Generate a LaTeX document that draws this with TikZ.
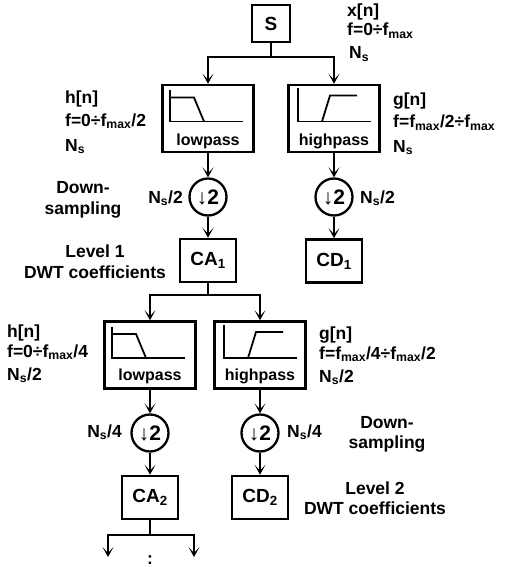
\documentclass[tikz,border=0pt]{standalone}
\usepackage{fontspec}
\setmainfont{Liberation Sans}
\usetikzlibrary{arrows.meta}
\tikzset{
  box/.style={draw, line width=2.6pt, inner sep=0pt},
  filt/.style={box, minimum width=91pt, minimum height=67pt},
  coef/.style={box, minimum width=56pt, minimum height=43pt, font=\bfseries\fontsize{19}{22}\selectfont},
  down/.style={draw, circle, line width=2.3pt, minimum size=37pt, inner sep=0pt, font=\bfseries\fontsize{21}{24}\selectfont},
  conn/.style={line width=2pt},
  arr/.style={conn, -{Stealth[length=10pt,width=11pt,inset=6pt]}},
  icon/.style={line width=1.8pt},
  lbl/.style={inner sep=0pt, anchor=base west, font=\bfseries\fontsize{17.5}{20}\selectfont},
  lblr/.style={lbl, anchor=base east},
  lblc/.style={lbl, anchor=base},
  ftxt/.style={inner sep=0pt, anchor=base, font=\bfseries\fontsize{16}{18}\selectfont},
}
\newcommand\fm{f\textsubscript{max}}
\newcommand\nsub{N\textsubscript{s}}
\newcommand\lowicon[1]{%
  \draw[icon] ([shift={(-38,-28)}]#1.center) -- ([shift={(-38,3)}]#1.center) -- ([shift={(35,3)}]#1.center);
  \draw[icon] ([shift={(-38,-21)}]#1.center) -- ([shift={(-14,-21)}]#1.center) -- ([shift={(-4,3)}]#1.center);}
\newcommand\highicon[1]{%
  \draw[icon] ([shift={(-36,-30)}]#1.center) -- ([shift={(-36,3)}]#1.center) -- ([shift={(37,3)}]#1.center);
  \draw[icon] ([shift={(-12,3)}]#1.center) -- ([shift={(-4,-23)}]#1.center) -- ([shift={(23,-23)}]#1.center);}
\begin{document}
\begin{tikzpicture}[x=1pt,y=-1pt]
\useasboundingbox (0,0) rectangle (505,567);
% nodes
\node[box, minimum width=38pt, minimum height=37pt, font=\bfseries\fontsize{19}{22}\selectfont] (S) at (271,23.5) {S};
\node[filt] (F1) at (208,118.5) {};
\node[filt] (F2) at (334,118.5) {};
\node[down] (C1) at (208,197) {↓2};
\node[down] (C2) at (334,197) {↓2};
\node[coef] (CA1) at (208,260.5) {CA\textsubscript{1}};
\node[coef] (CD1) at (334,261) {CD\textsubscript{1}};
\node[filt] (F3) at (150,355) {};
\node[filt] (F4) at (260,355) {};
\node[down] (C3) at (150,433) {↓2};
\node[down] (C4) at (260,433) {↓2};
\node[coef] (CA2) at (150,497.5) {CA\textsubscript{2}};
\node[coef] (CD2) at (260,497.5) {CD\textsubscript{2}};
% filter contents
\node[ftxt] (F1t) at (208,146) {lowpass};
\node[ftxt] (F2t) at (334,145) {highpass};
\node[ftxt] (F3t) at (150,380) {lowpass};
\node[ftxt] (F4t) at (260,380) {highpass};
\lowicon{F1}
\highicon{F2}
\lowicon{F3}
\highicon{F4}
% connectors
\coordinate (j1) at (271,57);
\coordinate (j2) at (208,295);
\coordinate (j3) at (150,535);
\coordinate (bL) at (108,557);
\coordinate (bR) at (194,557);
\draw[conn] (S.south) -- (j1);
\draw[arr] (j1) -| (F1.north);
\draw[arr] (j1) -| (F2.north);
\draw[arr] (F1.south) -- (C1.north);
\draw[arr] (F2.south) -- (C2.north);
\draw[arr] (C1.south) -- (CA1.north);
\draw[arr] (C2.south) -- (CD1.north);
\draw[conn] (CA1.south) -- (j2);
\draw[arr] (j2) -| (F3.north);
\draw[arr] (j2) -| (F4.north);
\draw[arr] (F3.south) -- (C3.north);
\draw[arr] (F4.south) -- (C4.north);
\draw[arr] (C3.south) -- (CA2.north);
\draw[arr] (C4.south) -- (CD2.north);
\draw[conn] (CA2.south) -- (j3);
\draw[arr] (j3) -| (bL);
\draw[arr] (j3) -| (bR);
\node[inner sep=0pt, font=\bfseries\fontsize{17.5}{20}\selectfont] (dots) at (150,560) {:};
% labels
\node[lbl] (tx1) at (347,17) {x[n]};
\node[lbl] (tx2) at (347,36) {f=0÷\fm};
\node[lbl] (tx3) at (349,59) {\nsub};
\node[lbl] (h1) at (65,104) {h[n]};
\node[lbl] (h2) at (65,126) {f=0÷\fm/2};
\node[lbl] (h3) at (65,151) {\nsub};
\node[lbl] (g1) at (393,106) {g[n]};
\node[lbl] (g2) at (393,128) {f=\fm/2÷\fm};
\node[lbl] (g3) at (393,152) {\nsub};
\node[lblc] (ds1a) at (83,193) {Down-};
\node[lblc] (ds1b) at (83,214) {sampling};
\node[lblr] (n1) at (183,203) {\nsub/2};
\node[lbl] (n2) at (360,203) {\nsub/2};
\node[lblc] (lv1a) at (95,257) {Level 1};
\node[lblc] (lv1b) at (95,278) {DWT coefficients};
\node[lbl] (h4) at (7,337) {h[n]};
\node[lbl] (h5) at (7,357) {f=0÷\fm/4};
\node[lbl] (h6) at (7,380) {\nsub/2};
\node[lbl] (g4) at (319,339) {g[n]};
\node[lbl] (g5) at (319,359) {f=\fm/4÷\fm/2};
\node[lbl] (g6) at (319,382) {\nsub/2};
\node[lblr] (n3) at (122,437) {\nsub/4};
\node[lbl] (n4) at (287,437) {\nsub/4};
\node[lblc] (ds2a) at (387,428) {Down-};
\node[lblc] (ds2b) at (387,448) {sampling};
\node[lblc] (lv2a) at (375,494) {Level 2};
\node[lblc] (lv2b) at (375,514) {DWT coefficients};
\end{tikzpicture}
\end{document}
